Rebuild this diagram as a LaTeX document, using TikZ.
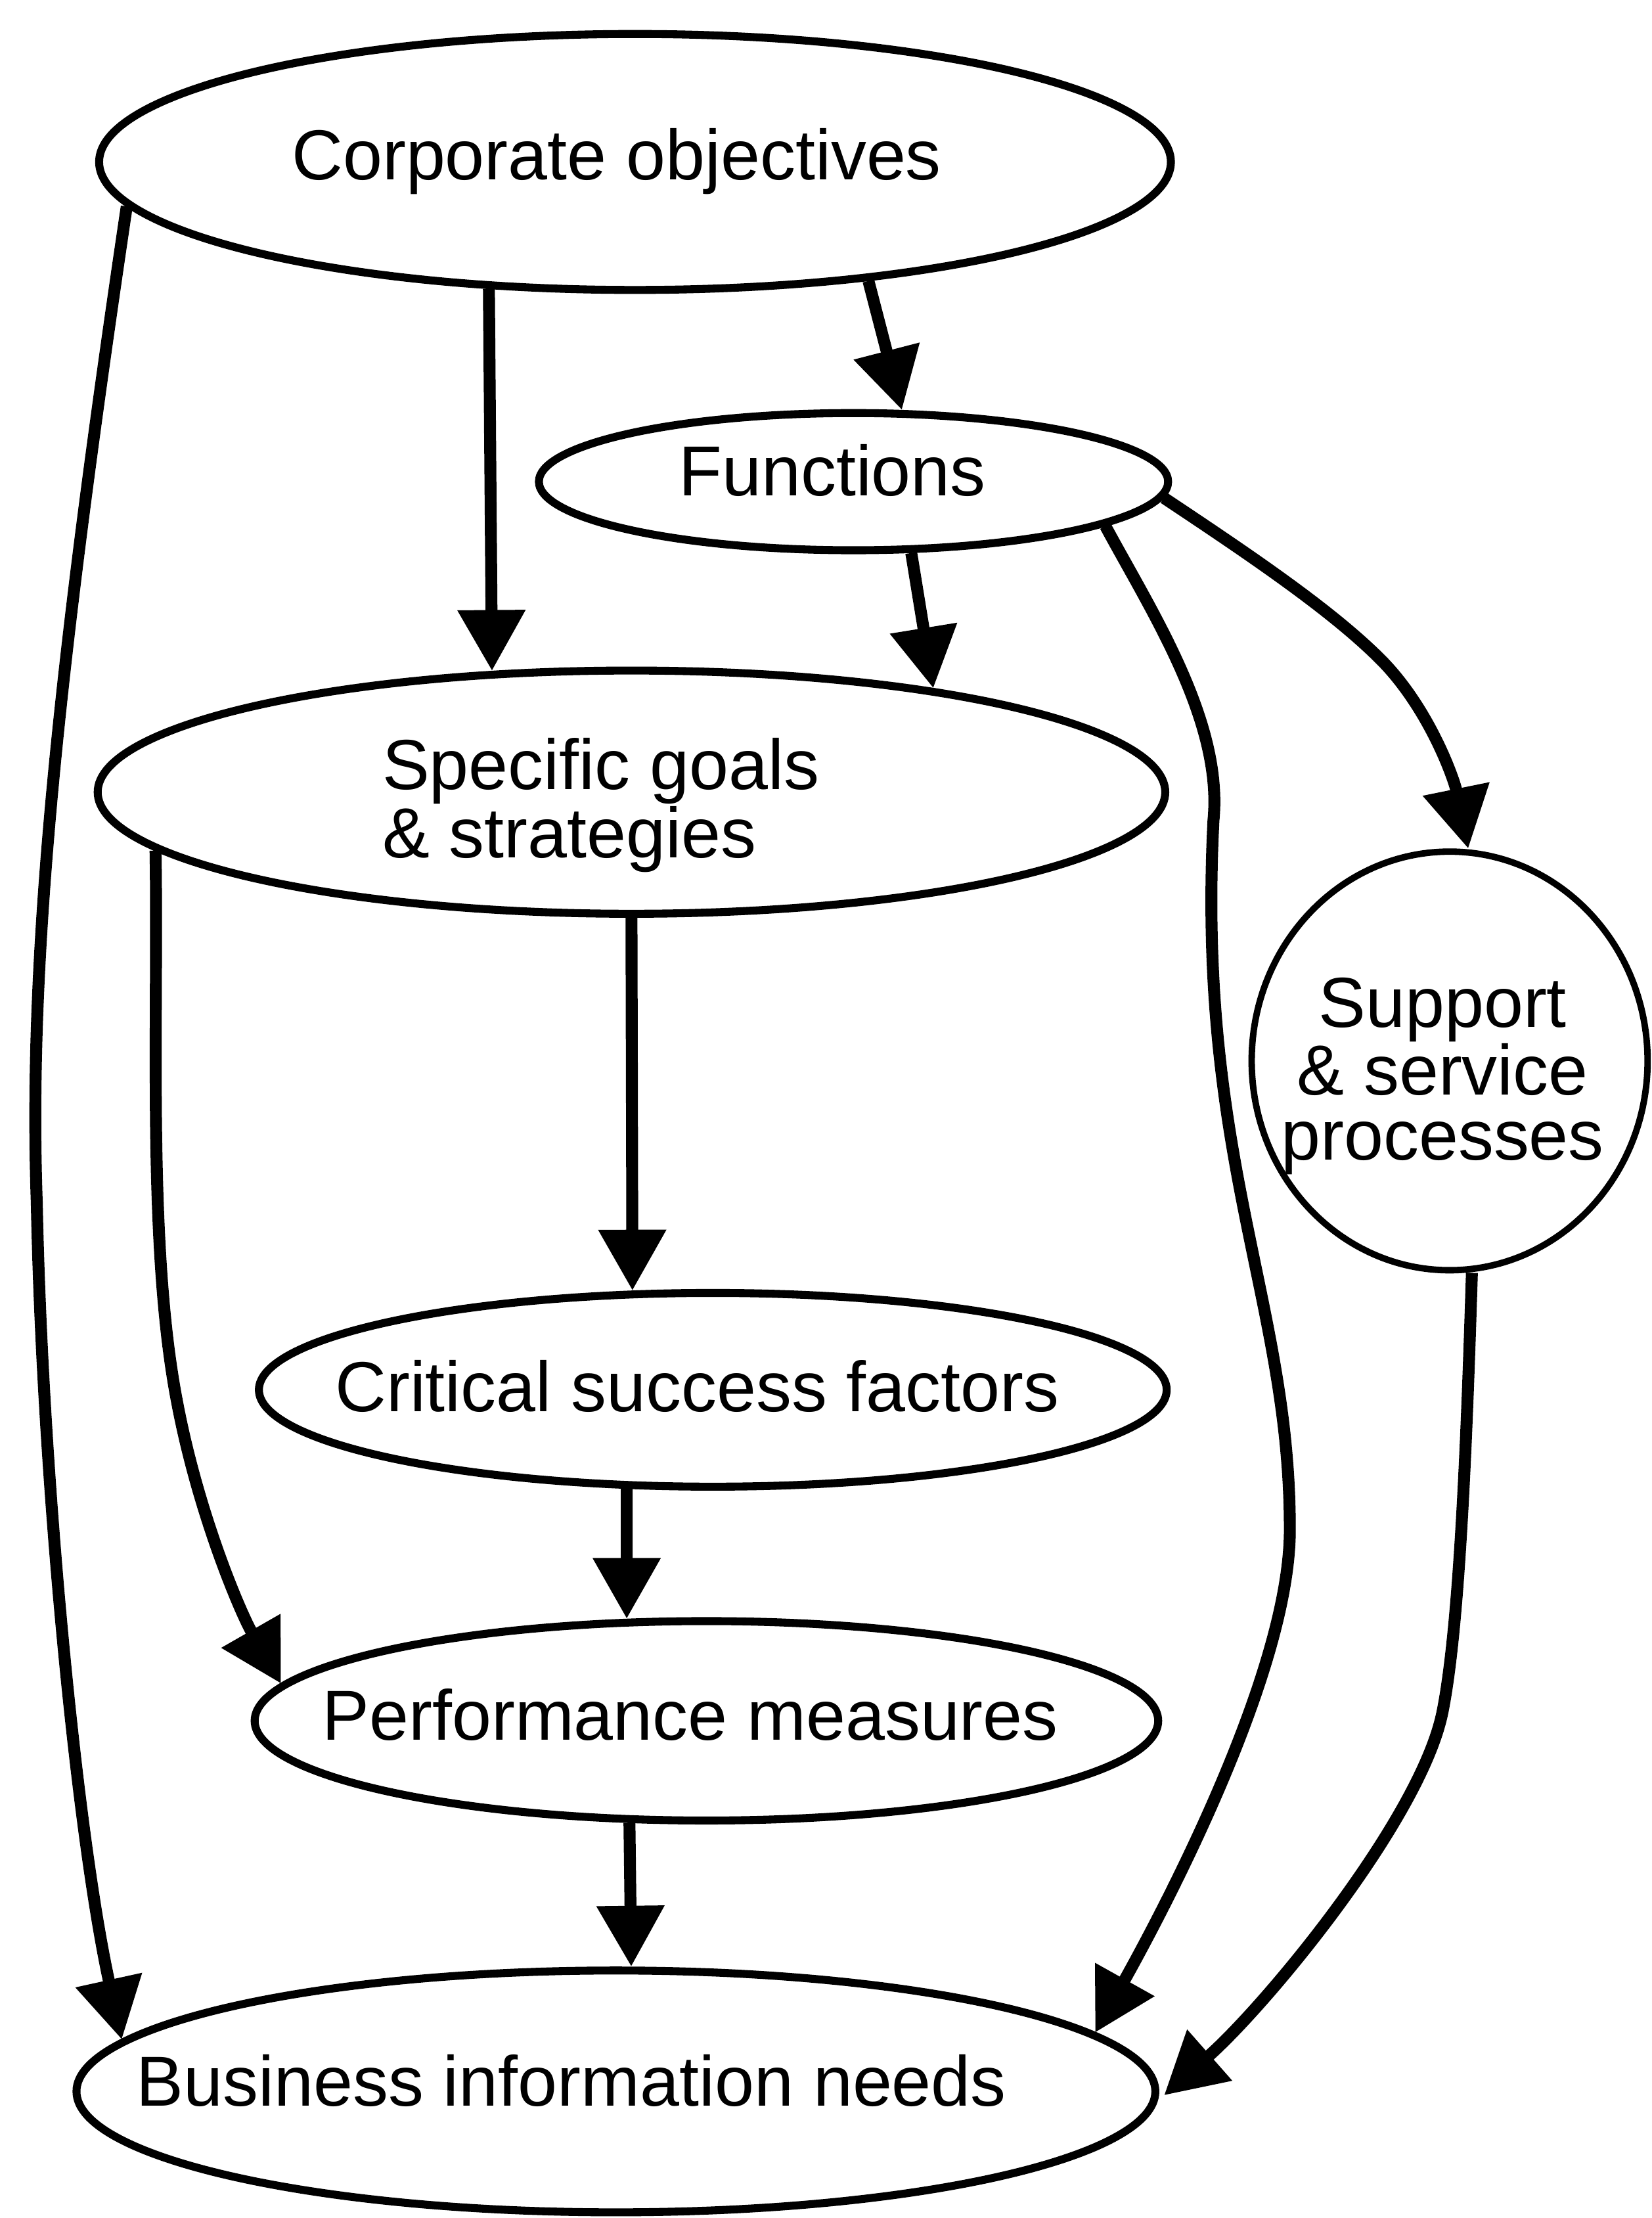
\documentclass[tikz,border=0pt]{standalone}
\usepackage{fontspec}
\setmainfont{Liberation Sans}
\usetikzlibrary{arrows.meta,shapes.geometric}
\begin{document}
\begin{tikzpicture}[x=0.02cm,y=-0.02cm,
  oval/.style={draw, ellipse, line width=3.2pt, inner sep=0pt, outer sep=1.6pt},
  lbl/.style={inner sep=0pt, font=\fontsize{28.5}{27.5}\selectfont},
  arr/.style={line width=4.8pt, -{Triangle[length=0.86cm,width=0.92cm]}}]

% page
\fill[white] (0,0) rectangle (1168,1568);

% entities
\node[oval, minimum width=15.16cm, minimum height=3.62cm] (corp) at (449,114.5) {};
\node[oval, minimum width=8.9cm,  minimum height=1.94cm] (func) at (603.5,340.5) {};
\node[oval, minimum width=15.1cm, minimum height=3.44cm] (spec) at (446.5,560) {};
\node[oval, minimum width=5.6cm,  minimum height=5.92cm, line width=2.6pt] (supp) at (1025,750) {};
\node[oval, minimum width=12.84cm, minimum height=2.74cm] (crit) at (504,982.5) {};
\node[oval, minimum width=12.78cm, minimum height=2.82cm] (perf) at (499.5,1216.5) {};
\node[oval, minimum width=15.26cm, minimum height=3.42cm] (bus) at (435.5,1478.5) {};

% labels
\node[lbl, anchor=base] (corp-t) at (436,127) {Corporate objectives};
\node[lbl, anchor=base] (func-t) at (588.5,350.5) {Functions};
\node[lbl, anchor=base west] (spec-t) at (270,558)
  {\begin{tabular}[t]{@{}l@{}}Specific goals\\[-1.5pt] \& strategies\end{tabular}};
\node[lbl, anchor=base] (supp-t) at (1020,726)
  {\begin{tabular}[t]{@{}c@{}}Support\\[-1.5pt] \& service\\[-1.5pt] processes\end{tabular}};
\node[lbl, anchor=base] (crit-t) at (493,998) {Critical success factors};
\node[lbl, anchor=base] (perf-t) at (488,1230) {Performance measures};
\node[lbl, anchor=base] (bus-t) at (404,1489) {Business information needs};

% straight links
\draw[arr] (corp.221.6) -- (spec.139.2);
\draw[arr] (corp.-27) -- (func.56.6);
\draw[arr] (func.-51.4) -- (spec.19.9);
\draw[arr] (spec.south) -- (crit.129);
\draw[arr] (crit.229) -- (perf.128);
\draw[arr] (perf.233) -- (bus.83.9);

% curved links
\draw[arr] (corp.185) .. controls (40,480) and (20,680) .. (26,850)
  .. controls (30,1050) and (55,1300) .. (bus.174);
\draw[arr] (spec.187.8) .. controls (112,720) and (104,880) .. (125,990)
  .. controls (140,1070) and (170,1140) .. (perf.175);
\draw[arr] (func.-10.5) .. controls (814,432) and (865,510) .. (858,580)
  .. controls (846,820) and (912,920) .. (912,1080)
  .. controls (913,1180) and (823,1350) .. (bus.7);
\draw[arr] (func.-3) .. controls (880,390) and (940,430) .. (976,466)
  .. controls (1010,500) and (1028,550) .. (supp.85.6);
\draw[arr, shorten >=0.12cm] (supp.-84.6) .. controls (1037,1020) and (1032,1150) .. (1020,1210)
  .. controls (1005,1285) and (896,1417) .. (bus.-1.3);
\end{tikzpicture}
\end{document}
